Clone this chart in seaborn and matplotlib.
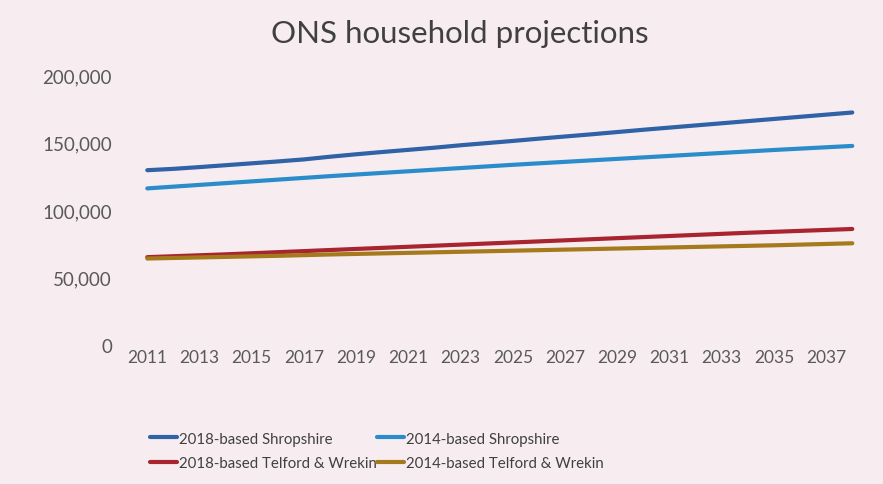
import matplotlib
matplotlib.use("Agg")
import matplotlib.pyplot as plt
import seaborn as sns
import pandas as pd

years = list(range(2011, 2039))
shrop_2018 = [129500, 130500, 131800, 133200, 134600, 136000, 137500, 139500, 141300, 143000,
              144600, 146200, 148000, 149600, 151200, 152900, 154500, 156100, 157800, 159500,
              161100, 162700, 164300, 165900, 167500, 169100, 170700, 172300]
shrop_2014 = [116000, 117300, 118600, 119900, 121200, 122500, 123800, 125100, 126300, 127500,
              128700, 129900, 131100, 132300, 133500, 134600, 135700, 136800, 137900, 139000,
              140100, 141200, 142300, 143400, 144500, 145500, 146500, 147500]
telford_2018 = [65000, 65700, 66400, 67100, 67900, 68700, 69500, 70300, 71100, 71900,
                72700, 73500, 74300, 75100, 75900, 76700, 77500, 78300, 79100, 79900,
                80700, 81500, 82300, 83100, 83800, 84500, 85200, 85900]
telford_2014 = [64000, 64400, 64800, 65200, 65600, 66000, 66500, 67000, 67400, 67800,
                68200, 68600, 69000, 69400, 69800, 70200, 70600, 71000, 71400, 71800,
                72200, 72600, 73000, 73400, 73800, 74300, 74800, 75300]
series_names = ["2018-based Shropshire", "2014-based Shropshire",
                "2018-based Telford & Wrekin", "2014-based Telford & Wrekin"]
series_vals = [shrop_2018, shrop_2014, telford_2018, telford_2014]
tick_years = list(range(2011, 2038, 2))
y_ticks = [0, 50000, 100000, 150000, 200000]

rows = []
for name, vals in zip(series_names, series_vals):
    for yr, v in zip(years, vals):
        rows.append({"Year": yr, "Households": v, "Series": name})
df = pd.DataFrame(rows)

sns.set_theme(style="white")
plt.rcParams['font.family'] = ['Lato', 'DejaVu Sans']
bg = "#f7edf0"
fig = plt.figure(figsize=(8.83, 4.85), dpi=100, facecolor=bg)
ax = fig.add_axes([0.152, 0.287, 0.828, 0.556], facecolor=bg)

palette = {"2018-based Shropshire": "#2f62a6",
           "2014-based Shropshire": "#2b8ccc",
           "2018-based Telford & Wrekin": "#a8242f",
           "2014-based Telford & Wrekin": "#a57a1c"}
sns.lineplot(data=df, x="Year", y="Households", hue="Series", hue_order=series_names,
             palette=palette, linewidth=3, ax=ax, legend=True)

ax.set_xlim(2010.5, 2038.5)
ax.set_ylim(0, 200000)
ax.set_xticks(tick_years)
ax.set_xticklabels([str(y) for y in tick_years])
ax.set_yticks(y_ticks)
ax.set_yticklabels([f"{v:,}" for v in y_ticks])
ax.tick_params(axis='both', length=0, colors="#595959")
ax.tick_params(axis='y', pad=16, labelsize=13.5)
ax.tick_params(axis='x', pad=3, labelsize=12.5)
ax.set_xlabel("")
ax.set_ylabel("")
for s in ax.spines.values():
    s.set_visible(False)

fig.text(0.521, 0.93, "ONS household projections", ha="center", va="center",
         fontsize=22.5, color="#404040")

handles, labels = ax.get_legend_handles_labels()
order = [0, 2, 1, 3]
ax.get_legend().remove()
leg = fig.legend([handles[i] for i in order], [labels[i] for i in order],
                 loc="upper left", bbox_to_anchor=(0.17, 0.108), ncol=2, frameon=False,
                 fontsize=10.8, handlelength=1.8, columnspacing=0.0, handletextpad=0.15,
                 labelspacing=0.72, borderpad=0, borderaxespad=0)
for t in leg.get_texts():
    t.set_color("#404040")

fig.savefig("out.png", dpi=100, facecolor=bg)
